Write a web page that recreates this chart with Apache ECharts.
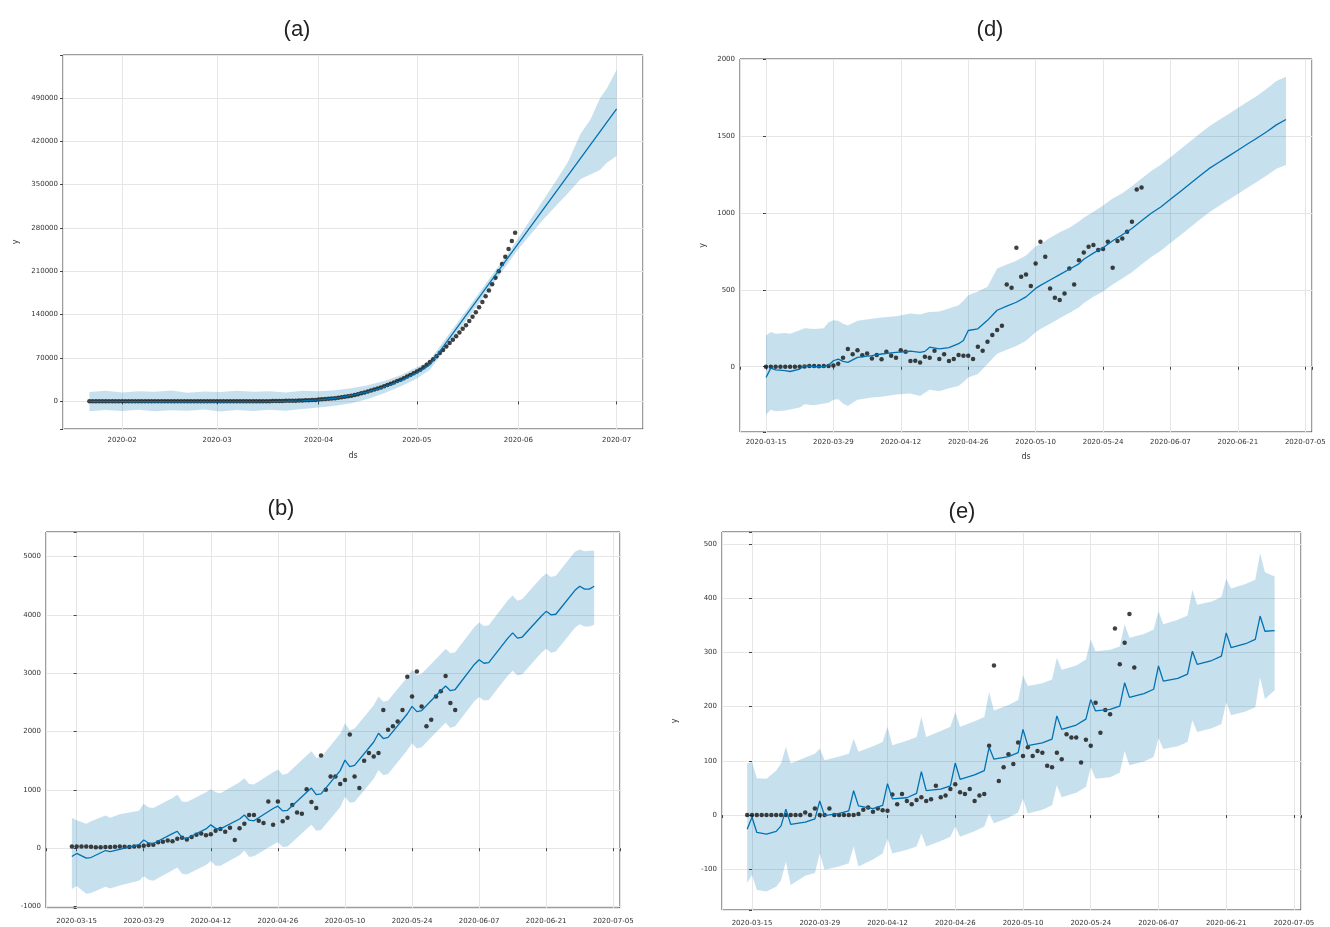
<!DOCTYPE html>
<html><head><meta charset="utf-8">
<script src="https://cdn.jsdelivr.net/npm/echarts@6/dist/echarts.min.js"></script>
<style>html,body{margin:0;padding:0;background:#fff}#c{width:1330px;height:927px}</style>
</head><body><div id="c"></div>
<script>
// ---------- panel titles ----------
const titles = ['(a)', '(d)', '(b)', '(e)'];

// ---------- (a): day index counted from 2020-01-22 ----------
const aAnchor = [2020, 0, 22];
const aActual = [
  0,0,0,0,0,0,0,0,0,0, 0,0,0,0,0,0,0,0,0,0, 0,0,0,0,0,0,0,0,0,0, 0,0,0,0,0,0,0,0,0,
  0,0,0,0,0,0,0,0,0,0, 100,100,150,200,250,300,350,400,500,600, 700,800,900,1000,1100,1300,1500,1700,1900,2100,2400,
  3000,3300,3700,4100,4600,5200,5800,6500,7300,8200, 9200,10300,11500,13000,14500,16000,17500,19000,20700,22500,
  24500,26500,28500,30500,32700,35000,37500,40000,42600,45300,
  48000,51000,55000,59000,63500,68000,73000,78000,83000,88500, 94000,99500,105000,111000,117000,123000,129500,136500,144000,152000,
  160500,169500,179000,189000,199500,210000,221500,233500,246000,259000,272000
];
const aLine = [[0,0],[20,-600],[39,-800],[55,-400],[65,800],[70,2500],[75,5000],[80,9500],[85,15500],[90,23000],
  [95,33000],[100,46000],[102,52000],[104,59000],[131,255000],[161,472000]];
const aBand = [[0,-16000,15000],[5,-14000,17000],[10,-15500,14500],[15,-13500,16500],[20,-16000,15500],[25,-14500,17500],
  [30,-15000,14000],[35,-13000,16000],[40,-16500,15000],[45,-14000,17000],[50,-15500,15500],[55,-13500,16500],
  [60,-15000,14500],[65,-12500,17000],[70,-10000,16500],[75,-7000,18000],[80,-3000,21000],[85,4000,26000],
  [90,13000,33000],[95,24000,42000],[100,37000,55000],[102,44000,60000],[104,51000,67000],[110,94000,110000],
  [116,137000,153000],[122,180000,197000],[128,224000,240000],[131,246000,264000],[134,265000,288000],
  [138,290000,320000],[142,313000,352000],[146,335000,385000],[150,359000,432000],[153,366000,455000],
  [156,374000,490000],[158,385000,505000],[161,396000,535000]];

// ---------- (b), (d), (e): day index counted from 2020-03-15 ----------
const mAnchor = [2020, 2, 15];

const dActualStart = 0;
const dActual = [0,0,0,0,0,0,0,0,2,4,5,3,4,5,8,20,58,115,82,108,74,87,54,76,48,98,72,59,108,98,37,39,28,65,59,104,50,82,37,50,
  76,72,72,50,130,104,163,206,239,267,536,514,775,586,601,525,673,814,716,510,449,434,477,640,536,694,744,781,792,760,
  766,814,644,818,835,879,944,1154,1167];
const dLine = [[0,-70],[1,-9],[2,-20],[4,-25],[5,-31],[7,-15],[8,7],[10,0],[12,0],[13,10],[14,39],[15,50],[16,35],[17,28],
  [19,61],[22,72],[24,83],[27,94],[30,101],[32,94],[33,100],[34,127],[36,116],[38,125],[40,150],[41,171],[42,236],[44,247],
  [46,302],[48,368],[50,395],[52,420],[54,455],[56,510],[57,530],[59,565],[61,600],[63,635],[65,670],[66,700],[68,740],
  [70,775],[72,820],[74,860],[76,900],[78,950],[80,1000],[82,1040],[84,1090],[86,1140],[88,1190],[90,1240],[92,1290],
  [94,1330],[96,1370],[98,1410],[100,1450],[102,1490],[104,1530],[106,1575],[108,1610]];
const dBand = [[0,-311,204],[1,-280,226],[2,-290,215],[4,-285,220],[5,-278,215],[7,-265,237],[8,-245,250],[10,-250,245],
  [12,-240,250],[13,-234,290],[14,-215,302],[15,-212,300],[16,-240,280],[17,-256,269],[19,-215,300],[22,-201,313],
  [24,-195,320],[27,-180,329],[30,-175,346],[32,-190,340],[33,-170,350],[34,-150,357],[36,-160,360],[38,-140,379],
  [40,-125,401],[41,-100,430],[42,-70,466],[44,-48,490],[46,18,521],[48,85,640],[50,110,665],[52,135,690],[54,170,725],
  [56,225,785],[57,245,800],[59,280,840],[61,315,875],[63,350,905],[65,385,945],[66,415,970],[68,455,1010],[70,490,1050],
  [72,535,1095],[74,575,1130],[76,615,1175],[78,665,1225],[80,715,1275],[82,755,1315],[84,805,1365],[86,855,1415],
  [88,905,1465],[90,955,1515],[92,1005,1565],[94,1045,1605],[96,1085,1645],[98,1125,1685],[100,1165,1725],
  [102,1205,1765],[104,1245,1810],[106,1290,1860],[108,1313,1888]];

const bActualStart = -1;
const bActual = [30,30,30,30,25,15,15,20,20,25,30,25,20,30,35,40,55,60,
  100,110,130,120,160,180,150,190,230,250,220,240,300,330,280,350,140,340,420,570,570,470,430,800,400,800,460,520,740,610,
  590,1010,790,690,1590,1000,1230,1230,1100,1170,1950,1230,1030,1500,1630,1570,1630,2370,2030,2090,2170,2370,2940,2600,
  3030,2430,2090,2200,2600,2690,2950,2490,2370];
const bLine = [[-1,-143],[0,-90],[2,-170],[3,-160],[6,-40],[7,-60],[9,-20],[13,60],[14,140],[15,90],[16,80],[20,250],
  [21,290],[22,180],[23,170],[27,330],[28,400],[29,340],[30,330],[34,500],[35,570],[36,480],[37,470],[41,680],[42,720],
  [43,640],[44,650],[48,960],[49,1030],[50,920],[51,930],[55,1330],[56,1510],[57,1400],[58,1420],[62,1820],[63,1970],
  [64,1880],[65,1900],[69,2300],[70,2430],[71,2340],[72,2360],[76,2700],[77,2780],[78,2700],[79,2720],[83,3150],
  [84,3230],[85,3170],[86,3180],[90,3600],[91,3690],[92,3600],[93,3620],[97,3980],[98,4060],[99,4000],[100,4010],
  [104,4420],[105,4490],[106,4440],[107,4440],[108,4490]];
const bBand = [[-1,-700,520],[0,-650,480],[2,-780,420],[3,-770,460],[6,-660,560],[7,-690,520],[9,-640,580],[13,-560,640],
  [14,-480,760],[15,-540,700],[16,-560,690],[20,-380,860],[21,-330,920],[22,-440,800],[23,-450,790],[27,-290,960],
  [28,-220,1010],[29,-300,960],[30,-300,940],[34,-120,1130],[35,-40,1200],[36,-150,1100],[37,-140,1090],[41,60,1300],
  [42,100,1350],[43,20,1260],[44,30,1280],[48,330,1590],[49,400,1660],[50,300,1550],[51,310,1560],[55,700,1960],
  [56,880,2140],[57,780,2020],[58,790,2050],[62,1190,2450],[63,1340,2600],[64,1250,2510],[65,1270,2530],[69,1680,2930],
  [70,1800,3060],[71,1710,2970],[72,1730,2990],[76,2070,3330],[77,2150,3420],[78,2060,3340],[79,2090,3360],
  [83,2520,3790],[84,2590,3870],[85,2530,3810],[86,2540,3820],[90,2960,4250],[91,3040,4330],[92,2960,4240],
  [93,2980,4270],[97,3350,4640],[98,3420,4710],[99,3350,4650],[100,3370,4670],[104,3780,5080],[105,3840,5120],
  [106,3800,5090],[107,3800,5100],[108,3830,5100]];

const eActualStart = -1;
const eActual = [0,0,0,0,0,0,0,0,0,0,0,0,5,0,12,0,0,12,
  0,0,0,0,0,2,10,14,6,12,9,8,38,20,39,26,20,28,33,26,29,54,33,36,48,57,42,39,48,26,
  36,39,128,276,63,88,112,94,134,109,125,109,118,115,91,88,115,103,149,143,143,97,139,128,207,152,194,186,344,278,318,
  371,272];
const eLine = [[-1,-26],[0,-4],[1,-32],[3,-35],[5,-30],[6,-20],[7,11],[8,-17],[11,-13],[13,-7],[14,26],[15,-1],[18,3],
  [20,8],[21,45],[22,17],[25,12],[27,18],[28,58],[29,30],[32,32],[34,40],[35,80],[36,45],[39,48],[41,54],[42,96],[43,66],
  [46,74],[48,82],[49,125],[50,103],[53,108],[55,115],[56,158],[57,128],[60,133],[62,140],[63,183],[64,158],[67,166],
  [69,177],[70,213],[71,192],[74,195],[76,201],[77,244],[78,217],[81,224],[83,232],[84,275],[85,247],[88,252],[90,260],
  [91,302],[92,278],[95,285],[97,293],[98,336],[99,309],[102,316],[104,324],[105,367],[106,339],[108,340]];
const eBand = [[-1,-125,95],[0,-110,98],[1,-138,68],[3,-141,67],[5,-132,82],[6,-120,95],[7,-86,126],[8,-129,95],
  [11,-112,106],[13,-107,113],[14,-71,123],[15,-101,101],[18,-95,108],[20,-89,113],[21,-58,141],[22,-95,117],
  [25,-82,127],[27,-71,135],[28,-43,163],[29,-71,129],[32,-64,137],[34,-58,144],[35,-34,181],[36,-58,144],[39,-48,155],
  [41,-40,163],[42,-21,190],[43,-40,163],[46,-30,173],[48,-21,181],[49,3,227],[50,-15,193],[53,-5,203],[55,5,212],
  [56,30,258],[57,3,238],[60,10,243],[62,18,250],[63,55,290],[64,33,268],[67,41,276],[69,52,287],[70,88,324],
  [71,67,302],[74,70,305],[76,78,311],[77,118,352],[78,92,327],[81,99,334],[83,107,342],[84,142,376],[85,122,352],
  [88,127,360],[90,135,368],[91,175,415],[92,153,388],[95,160,394],[97,168,402],[98,208,436],[99,184,418],
  [102,191,426],[104,199,434],[105,254,483],[106,214,448],[108,230,440]];

// ---------- helpers ----------
const FONT = 'DejaVu Sans';
const pad = n => String(n).padStart(2, '0');
function dateOf(anchor, d) { return new Date(anchor[0], anchor[1], anchor[2] + Math.round(d)); }
function tsA(d) { return new Date(aAnchor[0], aAnchor[1], aAnchor[2]).getTime() + d * 86400000; }
function fmtDay(d) { const t = dateOf(mAnchor, d); return t.getFullYear() + '-' + pad(t.getMonth() + 1) + '-' + pad(t.getDate()); }
function isMult(v, s) { const r = v / s; return Math.abs(r - Math.round(r)) < 1e-6; }

const grids = [
  {left: 63, top: 55, width: 580, height: 374},
  {left: 740, top: 59, width: 572, height: 373},
  {left: 46, top: 532, width: 574, height: 376},
  {left: 722, top: 532, width: 579, height: 379}
].map(g => Object.assign(g, {show: true, borderColor: '#3a3a3a', borderWidth: 1, backgroundColor: 'transparent'}));

const tickLbl = {fontSize: 7, fontFamily: FONT, color: '#333', hideOverlap: false, showMinLabel: true, showMaxLabel: true};
const splitL = {show: true, lineStyle: {color: '#e6e6e6', width: 1}};
const tickS = {show: true, length: 3, inside: false, lineStyle: {color: '#444'}};
const nameS = {fontSize: 8, fontFamily: FONT, color: '#333'};

function dayX(gi, min, max, margin, name, gap) {
  return {type: 'value', gridIndex: gi, min: min, max: max, minInterval: 14, maxInterval: 14,
    axisLine: {show: false}, axisTick: tickS, splitLine: splitL,
    axisLabel: Object.assign({margin: margin, formatter: v => isMult(v, 14) ? fmtDay(v) : ''}, tickLbl),
    name: name || '', nameLocation: 'middle', nameGap: gap || 20, nameTextStyle: nameS};
}
function valY(gi, min, max, step, name, gap) {
  return {type: 'value', gridIndex: gi, min: min, max: max, minInterval: step, maxInterval: step,
    axisLine: {show: false}, axisTick: tickS, splitLine: splitL,
    axisLabel: Object.assign({margin: 5, formatter: v => isMult(v, step) ? String(Math.round(v)) : ''}, tickLbl),
    name: name || '', nameLocation: 'middle', nameGap: gap || 30, nameRotate: 90, nameTextStyle: nameS};
}

const xAxes = [
  {type: 'time', gridIndex: 0, min: tsA(-8.05), max: tsA(169.05), splitNumber: 4,
    axisLine: {show: false}, axisTick: tickS, splitLine: splitL,
    axisLabel: Object.assign({margin: 8, formatter: v => { const t = new Date(v); return t.getFullYear() + '-' + pad(t.getMonth() + 1); }}, tickLbl, {showMinLabel: false, showMaxLabel: false}),
    name: 'ds', nameLocation: 'middle', nameGap: 23, nameTextStyle: nameS},
  dayX(1, -5.4, 113.4, 7, 'ds', 21),
  dayX(2, -6.4, 113.4, 10),
  dayX(3, -6.2, 113.45, 10)
];
const yAxes = [
  valY(0, -44600, 559000, 70000, 'y', 43),
  valY(1, -425, 2004, 500, 'y', 33),
  valY(2, -1025, 5420, 1000),
  valY(3, -175, 522, 100, 'y', 43)
];

const BAND = 'rgba(0,114,178,0.22)';
function bandSeries(gi, band, toX) {
  return {type: 'custom', xAxisIndex: gi, yAxisIndex: gi, silent: true, z: 1, clip: true,
    data: [[toX(band[0][0]), band[0][1]]],
    renderItem: (params, api) => {
      const pts = [];
      for (let i = 0; i < band.length; i++) pts.push(api.coord([toX(band[i][0]), band[i][2]]));
      for (let i = band.length - 1; i >= 0; i--) pts.push(api.coord([toX(band[i][0]), band[i][1]]));
      return {type: 'polygon', shape: {points: pts}, style: {fill: BAND}};
    }};
}
function dotSeries(gi, start, vals, toX) {
  return {type: 'scatter', xAxisIndex: gi, yAxisIndex: gi, z: 2, symbol: 'circle', symbolSize: 4.5,
    itemStyle: {color: '#111'}, data: vals.map((v, i) => [toX(start + i), v])};
}
function lineSeries(gi, pts, toX) {
  return {type: 'line', xAxisIndex: gi, yAxisIndex: gi, z: 3, showSymbol: false, smooth: false,
    lineStyle: {color: '#0072B2', width: 1.3}, data: pts.map(p => [toX(p[0]), p[1]])};
}
const idX = d => d;

const series = [
  bandSeries(0, aBand, tsA), dotSeries(0, 0, aActual, tsA), lineSeries(0, aLine, tsA),
  bandSeries(1, dBand, idX), dotSeries(1, dActualStart, dActual, idX), lineSeries(1, dLine, idX),
  bandSeries(2, bBand, idX), dotSeries(2, bActualStart, bActual, idX), lineSeries(2, bLine, idX),
  bandSeries(3, eBand, idX), dotSeries(3, eActualStart, eActual, idX), lineSeries(3, eLine, idX)
];

const titlePos = [[297, 30], [990, 30], [281, 509], [962, 512]];
const graphic = titles.map((t, i) => ({type: 'text', x: titlePos[i][0], y: titlePos[i][1], silent: true,
  style: {text: t, fill: '#222', font: '22px "Liberation Sans", Arial, sans-serif', textAlign: 'center', textVerticalAlign: 'middle'}}));

const chart = echarts.init(document.getElementById('c'), null, {renderer: 'canvas'});
chart.setOption({animation: false, backgroundColor: '#fff', grid: grids, xAxis: xAxes, yAxis: yAxes, series: series, graphic: graphic});
</script></body></html>
